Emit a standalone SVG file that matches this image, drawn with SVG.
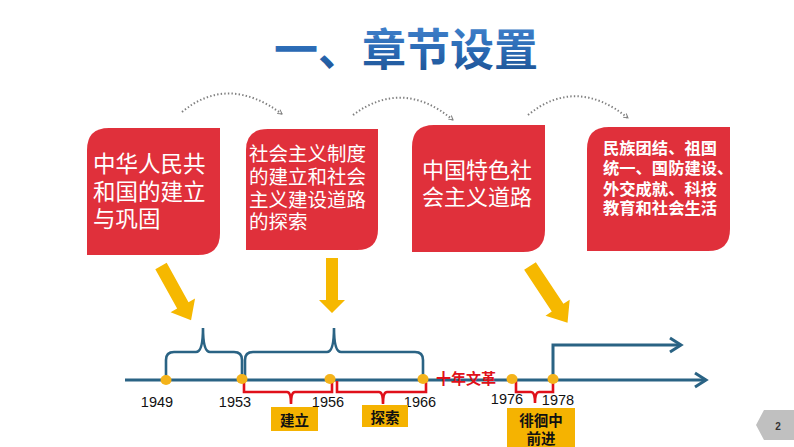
<svg xmlns="http://www.w3.org/2000/svg" width="794" height="447" viewBox="0 0 794 447">
<defs>
<linearGradient id="tg" x1="0" y1="0" x2="0" y2="1">
<stop offset="0" stop-color="#4a8ad4"/>
<stop offset="0.55" stop-color="#2a6ab4"/>
<stop offset="1" stop-color="#1c4f8e"/>
</linearGradient>
<marker id="dm" viewBox="0 0 10 10" refX="8" refY="5" markerWidth="6" markerHeight="6" orient="auto" markerUnits="userSpaceOnUse">
<path d="M1,1 L8,5 L1,9" fill="none" stroke="#808080" stroke-width="1.6"/>
</marker>
<style>
.box{fill:#e0303b}
.bt{fill:#fff;font-family:"Noto Sans CJK SC","Noto Sans",sans-serif;dominant-baseline:central}
.dot{fill:#f4b31a}
.tl{fill:none;stroke:#2a6384;stroke-width:3}
.br{fill:none;stroke:#2a6384;stroke-width:2.6}
.rb{fill:none;stroke:#e0101a;stroke-width:2.6}
.yr{font-family:"Liberation Sans",Arial,sans-serif;font-size:14.5px;fill:#111;text-anchor:middle;dominant-baseline:central}
.yl{fill:#f5b301}
.ylt{font-family:"Noto Sans CJK SC",sans-serif;font-weight:bold;font-size:14.5px;fill:#111;text-anchor:middle;dominant-baseline:central}
.ya{fill:#f6b800}
.dc{fill:none;stroke:#808080;stroke-width:2;stroke-dasharray:1.4 2.2}
</style>
</defs>
<rect width="794" height="447" fill="#fff"/>

<g id="title">
<text x="406" y="47" font-family="'Noto Sans CJK SC',sans-serif" font-weight="bold" font-size="44" text-anchor="middle" dominant-baseline="central" fill="url(#tg)">一、章节设置</text>
</g>

<g id="connectors">
<path class="dc" d="M182,112 Q228,74 282,114" marker-end="url(#dm)"/>
<path class="dc" d="M353,115 Q403,78 453,120" marker-end="url(#dm)"/>
<path class="dc" d="M528,115 Q576,76 628,118" marker-end="url(#dm)"/>
</g>

<g id="node1">
<path class="box" d="M109,128 L220,128 L220,233 Q220,255 198,255 L87,255 L87,150 Q87,128 109,128 Z"/>
<text class="bt" font-size="22.5"><tspan x="93" y="162">中华人民共</tspan><tspan x="93" y="190">和国的建立</tspan><tspan x="93" y="217">与巩固</tspan></text>
</g>

<g id="node2">
<path class="box" d="M268,129 L378,129 L378,229 Q378,250 357,250 L246,250 L246,150 Q246,129 268,129 Z"/>
<text class="bt" font-size="19.5"><tspan x="249" y="152">社会主义制度</tspan><tspan x="249" y="175">的建立和社会</tspan><tspan x="249" y="198">主义建设道路</tspan><tspan x="249" y="220">的探索</tspan></text>
</g>

<g id="node3">
<path class="box" d="M434,125 L545,125 L545,230 Q545,252 523,252 L412,252 L412,147 Q412,125 434,125 Z"/>
<text class="bt" font-size="22"><tspan x="422" y="168">中国特色社</tspan><tspan x="422" y="195">会主义道路</tspan></text>
</g>

<g id="node4">
<path class="box" d="M609,127 L730,127 L730,229 Q730,251 708,251 L587,251 L587,149 Q587,127 609,127 Z"/>
<text class="bt" font-size="16.3" font-weight="bold"><tspan x="603" y="147">民族团结、祖国</tspan><tspan x="603" y="167">统一、国防建设、</tspan><tspan x="603" y="188">外交成就、科技</tspan><tspan x="603" y="207">教育和社会生活</tspan></text>
</g>

<g id="yellow-arrows">
<polygon class="ya" points="0,-6.5 45,-6.5 45,-14 62,0 45,14 45,6.5 0,6.5" transform="translate(161,266) rotate(61)"/>
<polygon class="ya" points="0,-6 42,-6 42,-13 55,0 42,13 42,6 0,6" transform="translate(332,258) rotate(90)"/>
<polygon class="ya" points="0,-7 50,-7 50,-14.5 68,0 50,14.5 50,7 0,7" transform="translate(530,266) rotate(56.5)"/>
</g>

<g id="timeline">
<line class="tl" x1="125" y1="380" x2="706" y2="380"/>
<polyline class="tl" points="695,373 706,380 695,387"/>
<polyline class="tl" points="553,380 553,345 681,345"/>
<polyline class="tl" points="670,338 681,345 670,352"/>
<path class="br" d="M166,378 L166,360 Q166,352 174,352 L196,352 Q203,352 203,328 Q203,352 210,352 L234,352 Q242,352 242,360 L242,378"/>
<path class="br" d="M245,378 L245,360 Q245,352 253,352 L327,352 Q334,352 334,328 Q334,352 341,352 L415,352 Q423,352 423,360 L423,378"/>
<path class="rb" d="M244,381 L244,392 L287,392 Q291,392 291,404 Q291,392 295,392 L332,392 L332,381"/>
<path class="rb" d="M337,381 L337,392 L379,392 Q383,392 383,404 Q383,392 387,392 L426,392 L426,381"/>
<path class="rb" d="M516,381 L516,392 L531,392 Q535,392 535,403 Q535,392 539,392 L553,392 L553,381"/>
<ellipse class="dot" cx="166" cy="380" rx="5.5" ry="5"/>
<ellipse class="dot" cx="242" cy="379" rx="5.5" ry="5"/>
<ellipse class="dot" cx="330" cy="379" rx="5.5" ry="5"/>
<ellipse class="dot" cx="423" cy="379" rx="5.5" ry="5"/>
<ellipse class="dot" cx="512" cy="379" rx="5.5" ry="5"/>
<ellipse class="dot" cx="553" cy="379" rx="5.5" ry="5"/>
<text x="466" y="377" font-family="'Noto Sans CJK SC',sans-serif" font-weight="bold" font-size="15" fill="#e0101a" text-anchor="middle" dominant-baseline="central">十年文革</text>
<text class="yr" x="157" y="402">1949</text>
<text class="yr" x="235" y="402">1953</text>
<text class="yr" x="328" y="402">1956</text>
<text class="yr" x="420" y="402">1966</text>
<text class="yr" x="507" y="399">1976</text>
<text class="yr" x="558" y="400">1978</text>
</g>

<g id="label-jianli">
<rect class="yl" x="271" y="407" width="47" height="24"/>
<text class="ylt" x="294.5" y="419">建立</text>
</g>
<g id="label-tansuo">
<rect class="yl" x="362" y="405" width="46" height="22"/>
<text class="ylt" x="385" y="416">探索</text>
</g>
<g id="label-paihuai">
<rect class="yl" x="507" y="408" width="68" height="39"/>
<text class="ylt"><tspan x="541" y="419">徘徊中</tspan><tspan x="541" y="437">前进</tspan></text>
</g>

<g id="page-number">
<polygon points="756,425 764,410 794,410 794,440 764,440" fill="#c0c0c0"/>
<text x="778" y="426" font-family="'Liberation Sans',Arial,sans-serif" font-weight="bold" font-size="10" fill="#333" text-anchor="middle" dominant-baseline="central">2</text>
</g>
</svg>
